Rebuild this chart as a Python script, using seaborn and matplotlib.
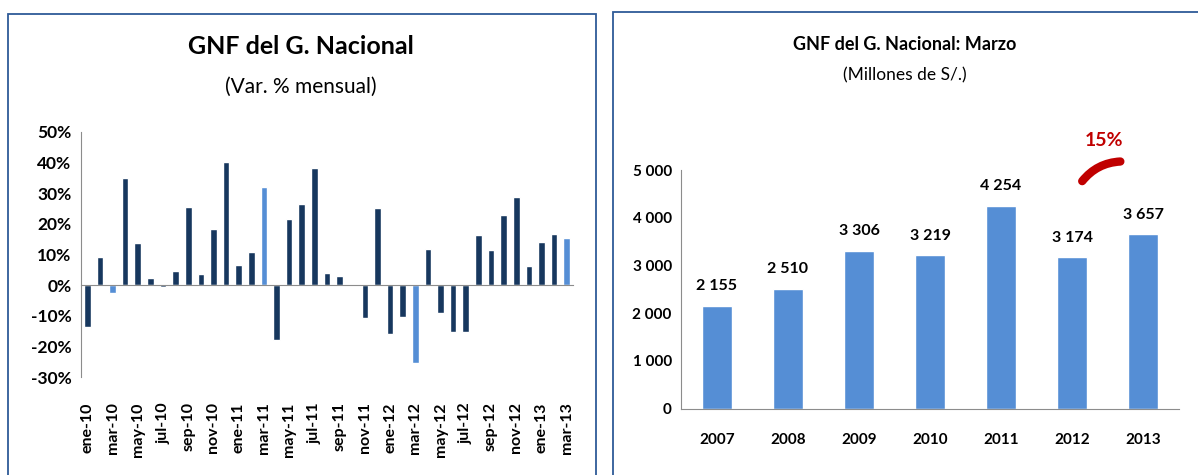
import numpy as np
import pandas as pd
import matplotlib
matplotlib.use('Agg')
import matplotlib.pyplot as plt
import seaborn as sns
from matplotlib.patches import Rectangle

# datos mensuales (var. %)
meses = ['ene-10', 'feb-10', 'mar-10', 'abr-10', 'may-10', 'jun-10', 'jul-10', 'ago-10', 'sep-10', 'oct-10',
         'nov-10', 'dic-10', 'ene-11', 'feb-11', 'mar-11', 'abr-11', 'may-11', 'jun-11', 'jul-11', 'ago-11',
         'sep-11', 'oct-11', 'nov-11', 'dic-11', 'ene-12', 'feb-12', 'mar-12', 'abr-12', 'may-12', 'jun-12',
         'jul-12', 'ago-12', 'sep-12', 'oct-12', 'nov-12', 'dic-12', 'ene-13', 'feb-13', 'mar-13']
var_mensual = [-13.7, 9.2, -2.6, 34.9, 13.7, 2.2, -0.5, 4.5, 25.6, 3.8,
               18.2, 40.0, 6.7, 10.7, 31.9, -17.7, 21.7, 26.3, 38.3, 3.9,
               2.9, 0.2, -10.8, 25.1, -16.0, -10.3, -25.3, 11.9, -9.2, -15.4,
               -15.4, 16.5, 11.4, 22.8, 28.6, 6.3, 14.2, 16.6, 15.3]

# datos de marzo (millones de S/.)
anios = ['2007', '2008', '2009', '2010', '2011', '2012', '2013']
gnf_marzo = [2155, 2510, 3306, 3219, 4254, 3174, 3657]
var_2013 = '15%'

oscuro = '#17375E'
claro = '#558ED5'
gris = '#8C8C8C'
borde = '#2E5A97'
rojo = '#C00000'


def miles(v):
    return f'{v:,}'.replace(',', ' ')


sns.set_style('white')
plt.rcParams['font.family'] = ['Lato', 'DejaVu Sans']
plt.rcParams['text.color'] = 'black'

fig = plt.figure(figsize=(11.98, 4.75), dpi=100)

# marcos de los paneles
fig.patches.append(Rectangle((8 / 1198, -0.05), 588 / 1198, 1.05 - 14 / 475, transform=fig.transFigure,
                             fill=False, edgecolor=borde, lw=1.3))
fig.patches.append(Rectangle((613 / 1198, -0.05), 0.6, 1.05 - 12 / 475, transform=fig.transFigure,
                             fill=False, edgecolor=borde, lw=1.3))

# ---- panel izquierdo ----
ax1 = fig.add_axes([81 / 1198, (475 - 377.3) / 475, 492 / 1198, 245.6 / 475])
df1 = pd.DataFrame({'mes': meses, 'var': var_mensual})
colores1 = [claro if m.startswith('mar') else oscuro for m in meses]
sns.barplot(data=df1, x='mes', y='var', hue='mes', palette=colores1, legend=False,
            width=0.52, order=meses, ax=ax1, saturation=1)
ax1.set_xlim(-0.5, len(meses) - 0.5)
ax1.set_ylim(-30, 50)
ax1.set_yticks(range(-30, 51, 10))
ax1.set_yticklabels([f'{v}%' for v in range(-30, 51, 10)], fontsize=12.5, fontweight='bold', color='black')
ax1.set_xlabel('')
ax1.set_ylabel('')
for s in ['top', 'right']:
    ax1.spines[s].set_visible(False)
ax1.spines['left'].set_color(gris)
ax1.spines['bottom'].set_color(gris)
ax1.spines['bottom'].set_position(('data', 0))
ax1.set_xticks(np.arange(-0.5, len(meses), 2))
ax1.set_xticklabels([])
ax1.tick_params(axis='x', length=5, color=gris, direction='out', width=1)
ax1.tick_params(axis='y', length=5, color=gris, direction='out', width=1, pad=2)
sec = ax1.secondary_xaxis('bottom')
sec.spines['bottom'].set_visible(False)
sec.set_xticks(range(0, len(meses), 2))
sec.set_xticklabels(meses[::2], rotation=90, fontsize=11.5, fontweight='bold', color='black')
sec.tick_params(length=0, pad=18)
fig.text(301 / 1198, 1 - 47 / 475, 'GNF del G. Nacional', ha='center', va='center',
         fontsize=18, fontweight='bold')
fig.text(301 / 1198, 1 - 87 / 475, '(Var. % mensual)', ha='center', va='center', fontsize=15)

# ---- panel derecho ----
ax2 = fig.add_axes([681.5 / 1198, (475 - 408.5) / 475, 497 / 1198, 238.5 / 475])
df2 = pd.DataFrame({'anio': anios, 'gnf': gnf_marzo})
sns.barplot(data=df2, x='anio', y='gnf', color=claro, width=0.41, ax=ax2, saturation=1)
ax2.set_xlim(-0.5, len(anios) - 0.5)
ax2.set_ylim(0, 5000)
ax2.set_yticks(range(0, 5001, 1000))
ax2.set_yticklabels([miles(v) for v in range(0, 5001, 1000)],
                    fontsize=11, fontweight='bold', color='black')
ax2.set_xticks(range(len(anios)))
ax2.set_xticklabels(anios, fontsize=11, fontweight='bold', color='black')
ax2.set_xticks(np.arange(-0.5, len(anios), 1), minor=True)
ax2.tick_params(axis='x', which='major', length=0, pad=18)
ax2.tick_params(axis='x', which='minor', length=5, color=gris, direction='out')
ax2.tick_params(axis='y', length=4, color=gris, direction='out', pad=3)
ax2.set_xlabel('')
ax2.set_ylabel('')
for s in ['top', 'right']:
    ax2.spines[s].set_visible(False)
ax2.spines['left'].set_color(gris)
ax2.spines['bottom'].set_color(gris)
for i, v in enumerate(gnf_marzo):
    ax2.annotate(miles(v), (i, v), xytext=(0, 14), textcoords='offset points',
                 ha='center', va='center', fontsize=11.5, fontweight='bold')
ax2.annotate('', xy=(5.72, 5180), xytext=(5.12, 4720),
             arrowprops=dict(arrowstyle='-', color=rojo, lw=6, capstyle='round',
                             connectionstyle='arc3,rad=-0.25'), annotation_clip=False)
ax2.text(5.45, 5620, var_2013, color=rojo, fontsize=14, fontweight='bold',
         ha='center', va='center', clip_on=False)
fig.text(905 / 1198, 1 - 45 / 475, 'GNF del G. Nacional: Marzo', ha='center', va='center',
         fontsize=13, fontweight='bold')
fig.text(905 / 1198, 1 - 75 / 475, '(Millones de S/.)', ha='center', va='center', fontsize=12.5)

fig.savefig('out.png', dpi=100)
